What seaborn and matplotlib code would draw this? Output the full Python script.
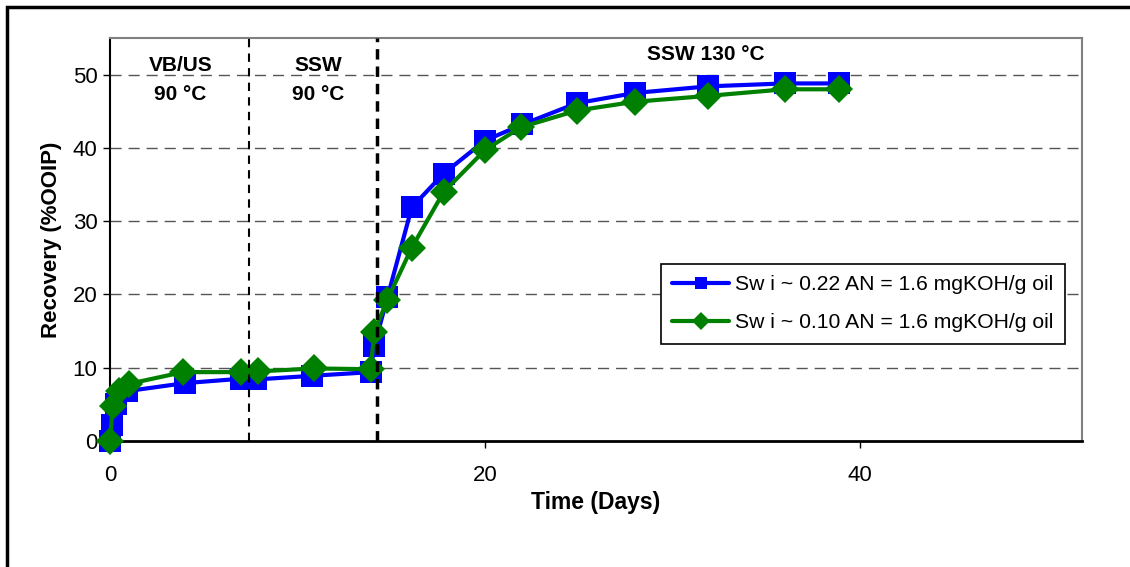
import matplotlib
matplotlib.use("Agg")
import matplotlib.pyplot as plt
import seaborn as sns
import pandas as pd
from matplotlib.patches import Rectangle

# ---- data ----
blue_label = "Sw i ~ 0.22 AN = 1.6 mgKOH/g oil"
blue_days = [0, 0.1, 0.3, 0.9, 4.0, 7.0, 7.8, 10.8, 13.9, 14.1, 14.8, 16.1, 17.8, 20.0, 22.0, 24.9, 28.0, 31.9, 36.0, 38.9]
blue_rec = [0, 2.2, 5.0, 6.8, 7.9, 8.5, 8.4, 8.9, 9.4, 13.0, 19.6, 31.9, 36.5, 41.0, 43.2, 46.1, 47.5, 48.4, 48.8, 48.8]

green_label = "Sw i ~ 0.10 AN = 1.6 mgKOH/g oil"
green_days = [0, 0.15, 0.5, 1.0, 3.9, 7.0, 7.9, 10.9, 13.9, 14.1, 14.8, 16.1, 17.8, 20.0, 21.9, 24.9, 28.0, 31.9, 36.0, 38.9]
green_rec = [0, 4.8, 6.8, 7.8, 9.4, 9.4, 9.5, 9.9, 9.8, 14.9, 19.3, 26.4, 34.0, 39.7, 42.8, 45.1, 46.3, 47.1, 48.0, 48.0]

phase_bounds = [7.4, 14.25]
phase_texts = ["VB/US\n90 °C", "SSW\n90 °C", "SSW 130 °C"]
phase_text_x = [3.75, 11.1, 31.8]
x_ticks = [0, 20, 40]
y_ticks = [0, 10, 20, 30, 40, 50]

# ---- plot ----
sns.set_style("white")
plt.rcParams['font.family'] = ['Liberation Sans', 'DejaVu Sans']
for k in ['text.color', 'axes.labelcolor', 'xtick.color', 'ytick.color']:
    plt.rcParams[k] = 'black'

fig = plt.figure(figsize=(11.3, 5.67), dpi=100)
ax = fig.add_axes([110/1130, 1-441/567, 972/1130, 403/567])

df_b = pd.DataFrame({"Days": blue_days, "Rec": blue_rec})
df_g = pd.DataFrame({"Days": green_days, "Rec": green_rec})

sns.lineplot(data=df_b, x="Days", y="Rec", ax=ax, sort=False, estimator=None,
             color="#0000FF", lw=3, marker="s", markersize=16, markeredgewidth=0,
             label=blue_label, clip_on=False, zorder=4)
sns.lineplot(data=df_g, x="Days", y="Rec", ax=ax, sort=False, estimator=None,
             color="#008000", lw=3, marker="D", markersize=14, markeredgewidth=0,
             label=green_label, clip_on=False, zorder=5)

ax.set_xlim(0, 51.85)
ax.set_ylim(0, 55)
ax.set_xticks(x_ticks)
ax.set_yticks(y_ticks)
ax.tick_params(axis='both', direction='out', length=5, width=1, color='black',
               labelsize=16, left=True, bottom=True)
ax.tick_params(axis='x', pad=12)
ax.tick_params(axis='y', pad=4)

# grid
for yv in y_ticks[1:]:
    ax.axhline(yv, color='#555555', lw=1, ls=(0, (8, 5)), zorder=1)

# phase boundaries
ax.axvline(phase_bounds[0], color='black', lw=1.5, ls=(0, (4, 3)), zorder=6)
ax.axvline(phase_bounds[1], color='black', lw=2.5, ls=(0, (3, 2)), zorder=6)

# phase texts
ax.text(phase_text_x[0], 49.3, phase_texts[0], ha='center', va='center', fontsize=15,
        fontweight='bold', linespacing=1.7)
ax.text(phase_text_x[1], 49.3, phase_texts[1], ha='center', va='center', fontsize=15,
        fontweight='bold', linespacing=1.7)
ax.text(phase_text_x[2], 52.8, phase_texts[2], ha='center', va='center', fontsize=15,
        fontweight='bold')

# spines
for s in ['left', 'bottom']:
    ax.spines[s].set_color('black')
ax.spines['left'].set_linewidth(1.5)
ax.spines['bottom'].set_linewidth(2)
for s in ['top', 'right']:
    ax.spines[s].set_color('#808080')
    ax.spines[s].set_linewidth(1.5)

ax.set_xlabel("Time (Days)", fontsize=16.5, fontweight='bold', labelpad=4)
ax.set_ylabel("Recovery (%OOIP)", fontsize=16, fontweight='bold', labelpad=8)

leg = ax.legend(loc='upper left', bbox_to_anchor=(0.5665, 0.44), fontsize=15.2,
                frameon=True, fancybox=False, framealpha=1, edgecolor='black',
                handlelength=2.7, handletextpad=0.25, borderpad=0.55,
                labelspacing=0.9, borderaxespad=0)
leg.get_frame().set_linewidth(1.2)
for h in leg.get_lines():
    h.set_markersize(9)
    h.set_linewidth(3)

# outer border
fig.add_artist(Rectangle((7/1130, -0.1), 1.2, (1 - 7/567) + 0.1, transform=fig.transFigure,
                         fill=False, lw=2.5, edgecolor='black'))

fig.savefig("out.png", dpi=100)
